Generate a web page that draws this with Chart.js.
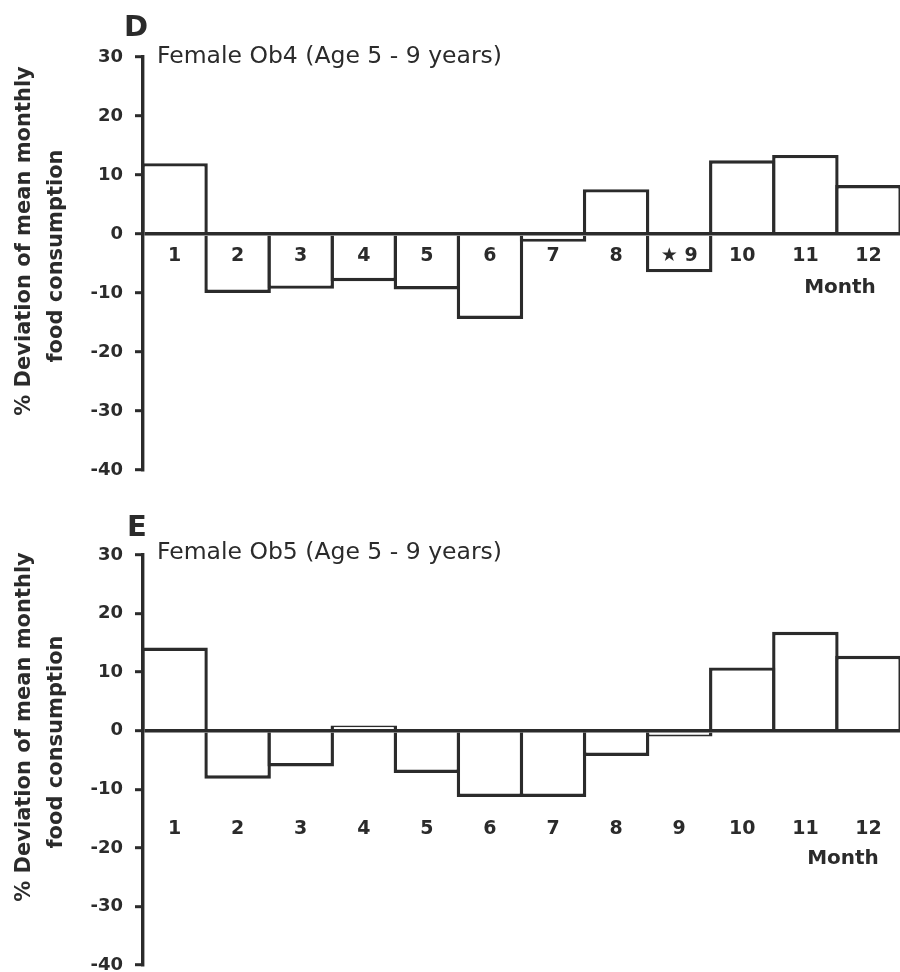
<!DOCTYPE html>
<html>
<head>
<meta charset="utf-8">
<script src="https://cdn.jsdelivr.net/npm/chart.js@4.4.1/dist/chart.umd.min.js"></script>
<style>
  html, body { margin: 0; padding: 0; background: #fff; overflow: hidden; }
  #wrap { position: relative; width: 900px; height: 972px; }
  canvas { position: absolute; left: 0; display: block; }
</style>
</head>
<body>
<div id="wrap">
  <canvas id="cD" width="900" height="486" style="top:0"></canvas>
  <canvas id="cE" width="900" height="486" style="top:486px"></canvas>
</div>
<script>
// ---- data ----
const months = ['1','2','3','4','5','6','7','8','9','10','11','12'];
const monthLabelsD = ['1','2','3','4','5','6','7','8','\u2605 9','10','11','12'];
const monthLabelsE = ['1','2','3','4','5','6','7','8','9','10','11','12'];
const valuesD = [12, -10, -9.3, -8, -9.4, -14.4, -1.3, 7.6, -6.5, 12.5, 13.4, 8.3];
const valuesE = [14.2, -8.2, -6.1, 0.9, -7.2, -11.3, -11.3, -4.3, -1.0, 10.8, 16.9, 12.8];
const yTickValues = [30, 20, 10, 0, -10, -20, -30, -40];
const yTitleLines = ['% Deviation of mean monthly', 'food consumption'];
const xTitle = 'Month';

const INK = '#2b2b2b';
const FONT = '"DejaVu Sans", "Noto Sans", sans-serif';

function makeChart(id, labels, values, cfg) {
  const annot = {
    id: 'annot',
    afterDraw(chart) {
      const ctx = chart.ctx;
      ctx.save();
      ctx.fillStyle = INK;
      ctx.textBaseline = 'middle';
      // panel letter
      ctx.font = 'bold 29px ' + FONT;
      ctx.textAlign = 'center';
      ctx.fillText(cfg.letter, cfg.letterX, cfg.letterY);
      // panel title
      ctx.font = '23.5px ' + FONT;
      ctx.textAlign = 'left';
      ctx.fillText(cfg.title, 157, cfg.titleY);
      // Month label
      ctx.font = 'bold 20px ' + FONT;
      ctx.textAlign = 'center';
      ctx.fillText(xTitle, cfg.monthX, cfg.monthY);
      // y title (two lines, rotated)
      ctx.font = 'bold 21px ' + FONT;
      ctx.rotate(-Math.PI / 2);
      ctx.fillText(yTitleLines[0], -241, 25);
      ctx.fillText(yTitleLines[1], -256, 57);
      ctx.restore();
    }
  };
  return new Chart(document.getElementById(id), {
    type: 'bar',
    data: {
      labels: labels,
      datasets: [{
        data: values,
        backgroundColor: '#ffffff',
        borderColor: INK,
        borderWidth: 3.4,
        borderSkipped: 'start',
        categoryPercentage: 1.0,
        barPercentage: 1.054
      }]
    },
    options: {
      responsive: false,
      animation: false,
      events: [],
      layout: { padding: { top: cfg.padTop, bottom: cfg.padBottom, left: 0, right: 0 } },
      plugins: { legend: { display: false }, tooltip: { enabled: false }, title: { display: false } },
      scales: {
        x: {
          position: { y: 0 },
          afterFit(scale) { scale.height = 0; scale.paddingLeft = 0; scale.paddingRight = 0; },
          grid: { display: false },
          border: { display: false },
          ticks: {
            z: 1,
            color: INK,
            font: { family: FONT, size: 19, weight: 'bold' },
            padding: cfg.xPad,
            maxRotation: 0,
            autoSkip: false
          }
        },
        y: {
          min: -40,
          max: 30,
          afterFit(scale) { scale.width = 143; scale.paddingTop = 0; scale.paddingBottom = 0; },
          afterBuildTicks(scale) { scale.ticks = yTickValues.map(v => ({ value: v })); },
          border: { display: true, color: INK, width: 3.4, z: 1 },
          grid: {
            z: 1,
            drawOnChartArea: true,
            color: c => (c.tick && c.tick.value === 0) ? INK : 'rgba(0,0,0,0)',
            lineWidth: 3.4,
            tickColor: INK,
            tickWidth: 3,
            tickLength: 8
          },
          ticks: {
            color: INK,
            font: { family: FONT, size: 18, weight: 'bold' },
            padding: 12
          },
          title: { display: false }
        }
      }
    },
    plugins: [annot]
  });
}

makeChart('cD', monthLabelsD, valuesD, {
  letter: 'D', letterX: 136, letterY: 28,
  title: 'Female Ob4 (Age 5 - 9 years)', titleY: 57,
  monthX: 840, monthY: 288,
  padTop: 57, padBottom: 16, xPad: 3
});
makeChart('cE', monthLabelsE, valuesE, {
  letter: 'E', letterX: 137, letterY: 42,
  title: 'Female Ob5 (Age 5 - 9 years)', titleY: 67,
  monthX: 843, monthY: 373,
  padTop: 69, padBottom: 7, xPad: 79
});
</script>
</body>
</html>
